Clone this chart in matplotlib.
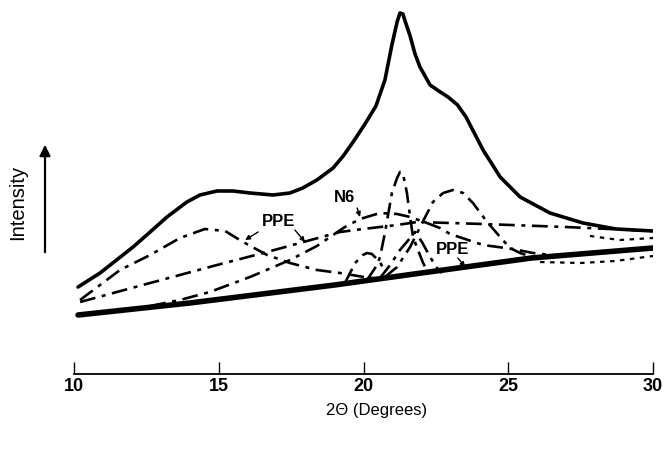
import matplotlib
matplotlib.use("Agg")
import matplotlib.pyplot as plt

# 2theta (deg) / intensity (arb. units)
total_x = [10.14, 10.90, 12.04, 12.63, 13.21, 13.90, 14.35, 14.94, 15.50, 16.08, 16.87, 17.46,
           17.90, 18.39, 18.95, 19.30, 19.64, 20.05, 20.43, 20.74, 20.98, 21.16, 21.26, 21.36,
           21.47, 21.61, 21.78, 21.95, 22.30, 22.60, 22.92, 23.25, 23.54, 24.13, 24.72, 25.41,
           26.44, 27.58, 28.72, 30.0]
total_y = [87, 101, 127, 142, 157, 172, 179, 183, 183, 181, 179, 181,
           186, 194, 206, 218, 232, 250, 268, 294, 329, 352, 361, 360,
           350, 338, 320, 307, 289, 283, 277, 269, 257, 224, 197, 177,
           161, 151, 145, 143]

base_x = [10.14, 14.0, 19.0, 22.0, 25.8, 30.0]
base_y = [59, 71, 89, 101, 116, 126]

# PPE amorphous halo near 14.6
ppe1_x = [10.21, 11.59, 12.63, 13.66, 14.52, 15.22, 15.84, 16.67, 17.46, 18.39, 19.19, 20.22, 21.0]
ppe1_y = [74, 104, 119, 136, 145, 143, 132, 119, 111, 104, 101, 96, 96]

# PPE broad component, flat to the right
ppe2_x = [10.21, 12.63, 14.94, 16.67, 18.05, 19.19, 19.98, 21.16, 21.85, 24.13, 26.99, 30.0]
ppe2_y = [72, 91, 109, 122, 133, 142, 145, 149, 152, 150, 147, 143]

# N6 amorphous halo
n6_x = [12.63, 13.66, 14.69, 16.08, 17.46, 18.39, 18.95, 19.36, 19.88, 20.57, 21.16, 21.61,
        22.19, 22.64, 22.99, 24.13, 25.16, 25.85, 26.78]
n6_y = [68, 74, 82, 97, 114, 128, 139, 147, 155, 161, 160, 157,
        151, 146, 140, 129, 125, 121, 118]

# crystalline peaks
pk1_x = [19.36, 19.71, 19.98, 20.12, 20.29, 20.57, 20.74]
pk1_y = [91, 111, 119, 121, 120, 112, 102]

pk2_x = [20.12, 20.47, 20.57, 20.74, 20.98, 21.16, 21.26, 21.36, 21.50, 21.61, 21.71, 21.88, 22.06, 22.23]
pk2_y = [94, 109, 117, 141, 181, 196, 202, 201, 181, 157, 137, 124, 111, 101]

pk3_x = [20.57, 20.92, 21.26, 21.61, 21.78, 22.02, 22.30, 22.54, 22.71]
pk3_y = [96, 109, 124, 136, 142, 132, 117, 106, 101]

pk4_x = [20.74, 21.16, 21.61, 22.06, 22.40, 22.75, 23.09, 23.44, 23.78, 24.27, 24.72, 25.06, 25.41, 25.92]
pk4_y = [97, 107, 127, 153, 172, 181, 184, 181, 171, 152, 137, 126, 121, 116]

# stray scan points at the right end
tail1_x = [26.1, 27.5, 28.7, 30.0]
tail1_y = [112, 111, 113, 118]
tail2_x = [27.82, 28.86, 30.0]
tail2_y = [138, 134, 136]

xticks = [10, 15, 20, 25, 30]

plt.rcParams['font.family'] = ['Liberation Sans', 'DejaVu Sans']

fig = plt.figure(figsize=(6.66, 4.49), dpi=100)
ax = fig.add_axes([0.1111, 0.16704, 0.8694, 0.82183])

dashdot = (0, (6, 2.5, 1.5, 2.5))
ax.plot(base_x, base_y, color='black', lw=4.0, solid_capstyle='round')
ax.plot(total_x, total_y, color='black', lw=2.6, solid_capstyle='round', solid_joinstyle='round')
for xs, ys in [(ppe1_x, ppe1_y), (ppe2_x, ppe2_y), (n6_x, n6_y),
               (pk1_x, pk1_y), (pk2_x, pk2_y), (pk3_x, pk3_y), (pk4_x, pk4_y)]:
    ax.plot(xs, ys, color='black', lw=1.9, linestyle=dashdot)
for xs, ys in [(tail1_x, tail1_y), (tail2_x, tail2_y)]:
    ax.plot(xs, ys, color='black', lw=1.6, linestyle=(0, (2, 2.5)))

# labels
lab = dict(fontsize=12, fontweight='bold', ha='center', va='center')
ax.text(19.33, 176, 'N6', **lab)
ax.text(17.05, 152, 'PPE', **lab)
ax.text(23.09, 124, 'PPE', **lab)
arr = dict(arrowstyle='-|>', color='black', lw=1.0, mutation_scale=7, shrinkA=0, shrinkB=0)
ax.annotate('', xy=(19.88, 157), xytext=(19.78, 166), arrowprops=arr)
ax.annotate('', xy=(15.91, 134), xytext=(16.36, 142), arrowprops=arr)
ax.annotate('', xy=(17.98, 132), xytext=(17.63, 144), arrowprops=arr)
ax.annotate('', xy=(23.51, 107), xytext=(23.26, 116), arrowprops=arr)

ax.set_xlim(10, 30)
ax.set_ylim(0, 369)
ax.set_xticks(xticks)
ax.set_xticklabels([str(t) for t in xticks], fontsize=13, fontweight='bold')
ax.tick_params(axis='x', direction='in', length=9, width=1.0, pad=3)
ax.set_yticks([])
for s in ['left', 'top', 'right']:
    ax.spines[s].set_visible(False)
ax.spines['bottom'].set_linewidth(1.3)

fig.text(377 / 666, 1 - 410 / 449, '2Θ (Degrees)', fontsize=12, ha='center', va='center')
fig.text(18 / 666, 1 - 202 / 449, 'Intensity', fontsize=14.5, rotation=90, ha='center', va='center')
fig.add_artist(matplotlib.patches.FancyArrowPatch(
    (45 / 666, 1 - 255 / 449), (45 / 666, 1 - 142 / 449), transform=fig.transFigure,
    arrowstyle='-|>', mutation_scale=16, lw=1.6, color='black'))

fig.savefig('out.png', dpi=100)
